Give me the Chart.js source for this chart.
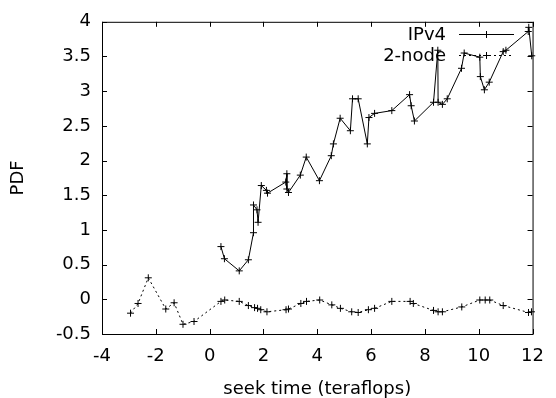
<!DOCTYPE html>
<html>
<head>
<meta charset="utf-8">
<script src="https://cdn.jsdelivr.net/npm/chart.js@4/dist/chart.umd.min.js"></script>
<style>
  html, body { margin: 0; padding: 0; background: #fff; }
  #wrap { width: 556px; height: 398px; }
</style>
</head>
<body>
<div id="wrap"><canvas id="c" width="556" height="398"></canvas></div>
<script>
// ---- data ----
const seriesNames = ["IPv4", "2-node"];

const ipv4X = [0.42,0.55,1.10,1.44,1.63,1.63,1.76,1.80,1.92,2.11,2.15,2.83,2.87,2.87,2.93,3.37,3.59,4.08,4.52,4.60,4.85,5.23,5.31,5.52,5.86,5.92,6.13,6.77,7.43,7.49,7.61,8.32,8.48,8.49,8.65,8.83,9.36,9.46,10.04,10.06,10.21,10.39,10.91,11.01,11.84,11.86,11.97];
const ipv4Y = [0.76,0.585,0.41,0.57,0.96,1.36,1.29,1.11,1.64,1.57,1.53,1.69,1.81,1.59,1.54,1.79,2.05,1.71,2.07,2.24,2.61,2.43,2.89,2.89,2.24,2.62,2.68,2.72,2.95,2.79,2.57,2.84,3.59,2.84,2.81,2.89,3.33,3.55,3.49,3.21,3.02,3.13,3.57,3.59,3.86,3.92,3.51];

const nodeX = [-2.94,-2.66,-2.28,-1.63,-1.32,-0.99,-0.58,0.42,0.56,1.10,1.44,1.67,1.78,1.90,2.13,2.84,2.93,3.39,3.60,4.09,4.54,4.86,5.28,5.52,5.90,6.13,6.77,7.45,7.57,8.32,8.49,8.65,9.37,10.04,10.24,10.41,10.91,11.85,11.96];
const nodeY = [-0.20,-0.06,0.31,-0.14,-0.05,-0.36,-0.32,-0.03,-0.01,-0.03,-0.09,-0.12,-0.13,-0.15,-0.18,-0.15,-0.14,-0.06,-0.03,-0.01,-0.08,-0.13,-0.18,-0.19,-0.15,-0.13,-0.03,-0.03,-0.06,-0.16,-0.18,-0.18,-0.11,-0.01,-0.01,-0.01,-0.09,-0.19,-0.18];

const xTickValues = [-4,-2,0,2,4,6,8,10,12];
const yTickValues = [-0.5,0,0.5,1,1.5,2,2.5,3,3.5,4];
const xTitle = "seek time (teraflops)";
const yTitle = "PDF";

// ---- build ----
const FONT = "'DejaVu Sans', sans-serif";
const toPts = (xs, ys) => xs.map((x, i) => ({ x: x, y: ys[i] }));

const frameTicks = {
  id: 'frameTicks',
  afterDatasetsDraw(chart) {
    const { ctx, chartArea: a, scales } = chart;
    ctx.save();
    ctx.strokeStyle = '#000';
    ctx.lineWidth = 1;
    ctx.strokeRect(a.left + 0.5, a.top + 0.5, a.right - a.left, a.bottom - a.top);
    const L = 5;
    ctx.beginPath();
    xTickValues.forEach(v => {
      const px = Math.round(scales.x.getPixelForValue(v)) + 0.5;
      ctx.moveTo(px, a.bottom); ctx.lineTo(px, a.bottom - L);
      ctx.moveTo(px, a.top); ctx.lineTo(px, a.top + L);
    });
    yTickValues.forEach(v => {
      const py = Math.round(scales.y.getPixelForValue(v)) + 0.5;
      ctx.moveTo(a.left, py); ctx.lineTo(a.left + L, py);
      ctx.moveTo(a.right, py); ctx.lineTo(a.right - L, py);
    });
    ctx.stroke();
    ctx.restore();
  }
};

const insideLegend = {
  id: 'insideLegend',
  afterDatasetsDraw(chart) {
    const { ctx } = chart;
    const textRight = 446, lineL = 459, lineR = 514, rows = [34, 55];
    ctx.save();
    ctx.font = "18px " + FONT;
    ctx.fillStyle = '#000';
    ctx.textAlign = 'right';
    ctx.textBaseline = 'middle';
    chart.data.datasets.forEach((ds, i) => {
      const y = rows[i];
      ctx.fillText(ds.label, textRight, y + 1);
      ctx.beginPath();
      ctx.strokeStyle = '#000';
      ctx.lineWidth = 1;
      ctx.setLineDash(ds.borderDash || []);
      ctx.moveTo(lineL, y + 0.5); ctx.lineTo(lineR, y + 0.5);
      ctx.stroke();
      ctx.setLineDash([]);
      const cx = (lineL + lineR) / 2, r = 3.5;
      ctx.beginPath();
      ctx.moveTo(cx - r, y + 0.5); ctx.lineTo(cx + r, y + 0.5);
      ctx.moveTo(cx, y - r + 0.5); ctx.lineTo(cx, y + r + 0.5);
      ctx.stroke();
    });
    ctx.restore();
  }
};

const tickFont = { family: FONT, size: 18 };

new Chart(document.getElementById('c'), {
  type: 'scatter',
  data: {
    datasets: [
      {
        label: seriesNames[0],
        data: toPts(ipv4X, ipv4Y),
        showLine: true,
        borderColor: '#000',
        backgroundColor: '#000',
        borderWidth: 1,
        pointStyle: 'cross',
        pointRadius: 3.5,
        pointBorderWidth: 1,
        pointHoverRadius: 3.5,
        clip: false
      },
      {
        label: seriesNames[1],
        data: toPts(nodeX, nodeY),
        showLine: true,
        borderColor: '#000',
        backgroundColor: '#000',
        borderWidth: 1,
        borderDash: [2, 3],
        pointStyle: 'cross',
        pointRadius: 3.5,
        pointBorderWidth: 1,
        pointHoverRadius: 3.5,
        clip: false
      }
    ]
  },
  options: {
    responsive: false,
    animation: false,
    events: [],
    layout: { padding: { left: 0, right: 17, top: 19, bottom: 0 } },
    plugins: { legend: { display: false }, tooltip: { enabled: false } },
    scales: {
      x: {
        type: 'linear',
        min: -4, max: 12,
        afterBuildTicks: s => { s.ticks = xTickValues.map(v => ({ value: v })); },
        afterFit: s => { s.height = 64; },
        ticks: { color: '#000', font: tickFont, padding: 12, maxRotation: 0, autoSkip: false, callback: v => String(v) },
        grid: { display: false, drawTicks: false },
        border: { display: false },
        title: { display: true, text: xTitle, color: '#000', font: tickFont, padding: { top: 0, bottom: -2 } }
      },
      y: {
        type: 'linear',
        min: -0.5, max: 4,
        afterBuildTicks: s => { s.ticks = yTickValues.map(v => ({ value: v })); },
        afterFit: s => { s.width = 102; },
        ticks: { color: '#000', font: tickFont, padding: 11, autoSkip: false, callback: v => String(v) },
        grid: { display: false, drawTicks: false },
        border: { display: false },
        title: { display: true, text: yTitle, color: '#000', font: tickFont, padding: { top: 8, bottom: 0 } }
      }
    }
  },
  plugins: [frameTicks, insideLegend]
});
</script>
</body>
</html>
